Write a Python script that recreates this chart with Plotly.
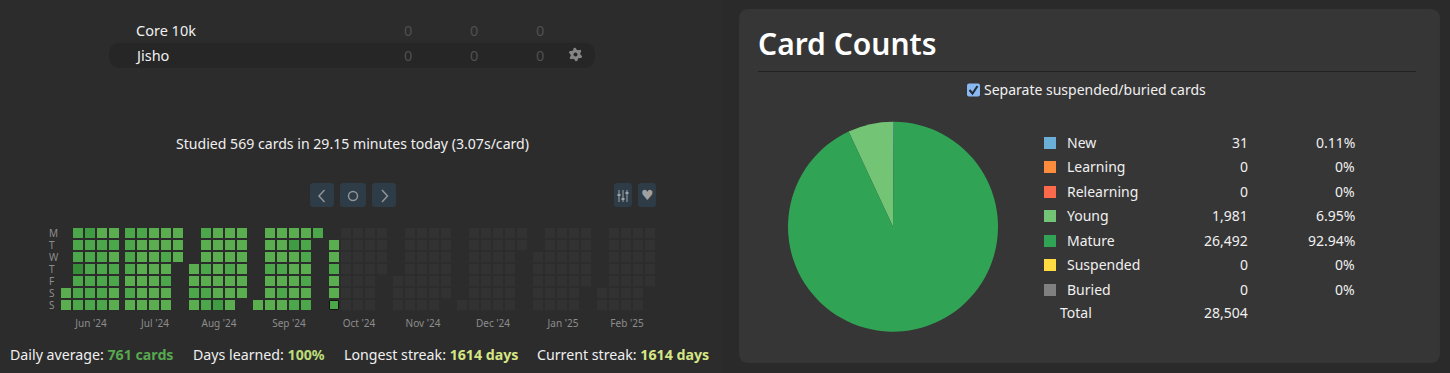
import math
import pandas as pd
import plotly.graph_objects as go

W, H = 1450, 373
FONT = "Noto Sans"

# ---- Data -------------------------------------------------------------
deck_names = ["Core 10k", "Jisho"]
deck_counts = [[0, 0, 0], [0, 0, 0]]

card_types = ["New", "Learning", "Relearning", "Young", "Mature", "Suspended", "Buried"]
card_counts = [31, 0, 0, 1981, 26492, 0, 0]
card_percent = ["0.11%", "0%", "0%", "6.95%", "92.94%", "0%", "0%"]
card_colors = ["#6baed6", "#fd8d3c", "#fb6a4a", "#74c476", "#31a354", "#ffdc41", "#808080"]
total_cards = "28,504"

weekday_labels = ["M", "T", "W", "T", "F", "S", "S"]
month_labels = ["Jun '24", "Jul '24", "Aug '24", "Sep '24", "Oct '24",
                "Nov '24", "Dec '24", "Jan '25", "Feb '25"]
first_day = "2024-06-01"
last_day = "2025-02-28"
today = "2024-10-06"

# activity level per studied day, in date order, month by month
levels_jun = [0, 0,
              1, 1, 1, 3, 1, 1, 1,
              2, 1, 1, 1, 1, 1, 1,
              0, 1, 1, 1, 1, 1, 1,
              0, 1, 0, 1, 1, 0, 0]
levels_jul = [1, 1, 1, 1, 0, 1, 0,
              1, 0, 0, 0, 0, 0, 0,
              0, 0, 0, 0, 0, 0, 0,
              0, 0, 1, 0, 1, 0, 0,
              0, 0, 0]
levels_aug = [0, 0, 1, 0,
              1, 0, 0, 1, 0, 1, 1,
              0, 0, 0, 0, 0, 0, 2,
              0, 0, 0, 1, 0, 0, 0,
              0, 0, 0, 0, 0, 0]
levels_sep = [0,
              0, 0, 0, 1, 0, 0, 0,
              0, 0, 0, 1, 0, 1, 0,
              0, 2, 0, 0, 0, 0, 1,
              0, 1, 1, 0, 1, 0, 1,
              1]
levels_oct = [0, 0, 1, 0, 0, 1]

level_colors = ["#5aae50", "#4ca64a", "#3f9c42", "#368e39"]
empty_color = "#323232"

stats = [("Daily average: ", "761 cards", "#57a84f", 10),
         ("Days learned: ", "100%", "#bcdc78", 193),
         ("Longest streak: ", "1614 days", "#d6e685", 344),
         ("Current streak: ", "1614 days", "#d6e685", 537)]

# ---- Derived calendar -------------------------------------------------
levels = levels_jun + levels_jul + levels_aug + levels_sep + levels_oct
days = pd.date_range(first_day, last_day, freq="D")
col = 0
prev = None
cols, rows = [], []
for d in days:
    if prev is not None:
        if d.month != prev.month:
            col += 1 + 4 / 12            # month gap
        elif d.weekday() == 0:
            col += 1
    cols.append(col)
    rows.append(d.weekday())
    prev = d

colors = [level_colors[levels[i]] if i < len(levels) else empty_color for i in range(len(days))]
today_idx = list(days).index(pd.Timestamp(today))

tickvals = []
for m in sorted(set((d.year, d.month) for d in days)):
    c = [cols[i] for i, d in enumerate(days) if (d.year, d.month) == m]
    tickvals.append((min(c) + max(c)) / 2 + 1 / 12)

# ---- helpers ----------------------------------------------------------
def px(x):
    return x / W

def py(y):
    return 1 - y / H

def rrect(x0, y0, x1, y1, r):
    p = [("M", x0 + r, y0), ("L", x1 - r, y0), ("Q", x1, y0, x1, y0 + r), ("L", x1, y1 - r),
         ("Q", x1, y1, x1 - r, y1), ("L", x0 + r, y1), ("Q", x0, y1, x0, y1 - r),
         ("L", x0, y0 + r), ("Q", x0, y0, x0 + r, y0)]
    out = ""
    for s in p:
        pts = s[1:]
        out += s[0] + " ".join(f"{px(pts[i]):.5f},{py(pts[i + 1]):.5f}" for i in range(0, len(pts), 2)) + " "
    return out + "Z"

def poly(pts):
    return "M" + " L".join(f"{px(x):.5f},{py(y):.5f}" for x, y in pts)

shapes = []

def box(x0, y0, x1, y1, r, color, line=None):
    shapes.append(dict(type="path", xref="paper", yref="paper", path=rrect(x0, y0, x1, y1, r),
                       fillcolor=color, line=dict(width=1 if line else 0, color=line or color), layer="below"))

def stroke(pts, color="#8f9498", w=1.5):
    shapes.append(dict(type="path", xref="paper", yref="paper", path=poly(pts),
                       line=dict(width=w, color=color), layer="above"))

annotations = []

def text(x, y, s, size=14, color="#f0f0f0", anchor="left", weight=None, font=FONT):
    f = dict(family=font, size=size, color=color)
    if weight:
        f["weight"] = weight
    annotations.append(dict(xref="paper", yref="paper", x=px(x), y=py(y - 1), text=s, showarrow=False,
                            xanchor=anchor, yanchor="middle", font=f, borderpad=0, borderwidth=0))

# ---- left column ------------------------------------------------------
box(109, 42.5, 595, 68, 12.5, "#262626")
for y, name, vals, nx in zip([31, 56], deck_names, deck_counts, [136, 134.5]):
    text(nx, y, name, 14.5)
    for x, v in zip([408, 474, 540], vals):
        text(x, y, str(v), 14.5, "#505050", "center")

# gear icon
gear = []
teeth = 6
for k in range(teeth * 4):
    a = 2 * math.pi * k / (teeth * 4) + 0.26
    r = 6.8 if k % 4 in (0, 1) else 4.9
    gear.append((575.5 + r * math.cos(a), 54.5 + r * math.sin(a)))
shapes.append(dict(type="path", xref="paper", yref="paper", path=poly(gear) + " Z",
                   fillcolor="#858585", line=dict(width=0), layer="above"))
shapes.append(dict(type="circle", xref="paper", yref="paper", x0=px(573.5), x1=px(577.5),
                   y0=py(56.5), y1=py(52.5), fillcolor="#262626", line=dict(width=0), layer="above"))

text(352, 144, "Studied 569 cards in 29.15 minutes today (3.07s/card)", 14.1, "#f0f0f0", "center")

btn = "#2d3c47"
box(310, 183, 334, 207, 3, btn)
box(340, 183, 366, 207, 3, btn)
box(372, 183, 396, 207, 3, btn)
box(614, 183, 632, 207, 3, btn)
box(638, 183, 656, 207, 3, btn)
stroke([(324.5, 190), (319, 196), (324.5, 202)])
stroke([(382, 190), (387.5, 196), (382, 202)])
shapes.append(dict(type="circle", xref="paper", yref="paper", x0=px(348.5), x1=px(357.5),
                   y0=py(191.5), y1=py(200.5), line=dict(color="#8f9498", width=1.5)))
for x, k in [(619, 195), (623, 199), (627, 193)]:
    stroke([(x, 190), (x, 202)], "#a0a4a8", 1)
    stroke([(x - 1.5, k), (x + 1.5, k)], "#a0a4a8", 2)
text(647, 196, "\u2665", 14, "#a0a0a0", "center", font="DejaVu Sans")

for i, d in enumerate(weekday_labels):
    annotations.append(dict(xref="paper", yref="y", x=px(48), y=i, text=d, showarrow=False, xanchor="left",
                            yanchor="middle", font=dict(family=FONT, size=10, color="#8c8c8c"),
                            borderpad=0))

for lab, val, c, x in stats:
    text(x, 355, f'{lab}<span style="color:{c}"><b>{val}</b></span>', 14.2)

# ---- right card -------------------------------------------------------
shapes.insert(0, dict(type="rect", xref="paper", yref="paper", x0=px(722), x1=1, y0=0, y1=1,
                      fillcolor="#2a2a2a", line=dict(width=0), layer="below"))
box(739, 9, 1440, 363, 10, "#363636")
shapes.append(dict(type="line", xref="paper", yref="paper", x0=px(758), x1=px(1416), y0=py(71.5), y1=py(71.5),
                   line=dict(color="#222222", width=1), layer="below"))
text(758, 45, "Card Counts", 30, "#ffffff", weight=600)
box(967, 83.5, 980, 96.5, 2, "#8ab9f1")
stroke([(969.5, 90), (972.5, 93.5), (977.5, 86)], "#1f2a36", 2)
text(984, 91, "Separate suspended/buried cards", 14)

row_y = [143, 167, 192, 216, 241, 265, 290]
for y, n, v, p, c in zip(row_y, card_types, card_counts, card_percent, card_colors):
    box(1044, y - 6, 1056, y + 6, 0, c)
    text(1067, y, n, 14)
    text(1247.5, y, f"{v:,}", 14, anchor="right")
    text(1355, y, p, 14, anchor="right")
text(1060, 313, "Total", 14)
text(1247.5, 313, total_cards, 14, anchor="right")

# ---- figure -----------------------------------------------------------
fig = go.Figure()
fig.add_trace(go.Scatter(
    x=cols, y=rows, mode="markers", hoverinfo="skip", showlegend=False,
    marker=dict(symbol="square", size=10, color=colors, line=dict(width=0)),
))
fig.add_trace(go.Scatter(
    x=[cols[today_idx]], y=[rows[today_idx]], mode="markers", hoverinfo="skip", showlegend=False,
    marker=dict(symbol="square", size=9, color=colors[today_idx], line=dict(width=1, color="#111111")),
))
fig.add_trace(go.Pie(
    values=card_counts, labels=card_types, sort=False, direction="counterclockwise", rotation=0,
    marker=dict(colors=card_colors, line=dict(width=0)), textinfo="none", showlegend=False,
    domain=dict(x=[px(788), px(998)], y=[py(331.7), py(121.7)]), hoverinfo="label+value",
))

x_left, x_right = 60, 660
u = lambda p: (p - 66) / 12
fig.update_layout(
    width=W, height=H, autosize=False, margin=dict(l=0, r=0, t=0, b=0),
    paper_bgcolor="#2c2c2c", plot_bgcolor="rgba(0,0,0,0)",
    font=dict(family=FONT, color="#f0f0f0"),
    shapes=shapes, annotations=annotations,
    xaxis=dict(domain=[px(x_left), px(x_right)], range=[u(x_left), u(x_right)], showgrid=False, zeroline=False,
               showline=False, tickmode="array", tickvals=tickvals, ticktext=month_labels, ticks="outside",
               ticklen=3, tickwidth=1, tickcolor="rgba(0,0,0,0)",
               tickfont=dict(family=FONT, size=10, color="#8c8c8c"), anchor="y"),
    yaxis=dict(domain=[py(311), py(227)], range=[6.5, -0.5], showgrid=False, zeroline=False, showline=False,
               showticklabels=False, ticks=""),
)
fig.write_html("out.html", config=dict(displayModeBar=False),
               post_script="document.body.style.margin='0';document.body.style.background='#2c2c2c';"
                           "document.documentElement.style.overflow='hidden';")
